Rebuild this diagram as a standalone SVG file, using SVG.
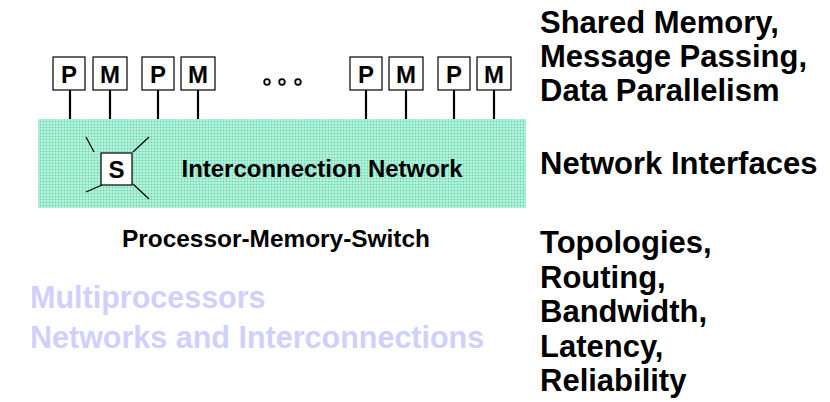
<svg xmlns="http://www.w3.org/2000/svg" width="830" height="402" viewBox="0 0 830 402">
  <style>
    .lbl { font-family: "Liberation Sans", Arial, sans-serif; font-weight: bold; fill: #000; }
    .box { fill: #fff; stroke: #000; stroke-width: 1.2; }
    .wire { stroke: #000; stroke-width: 2.2; fill: none; }
    .spoke { stroke: #000; stroke-width: 1.2; fill: none; }
    .node-text { font-size: 24px; text-anchor: middle; }
    .side { font-size: 31px; }
    .title { font-family: "Liberation Sans", Arial, sans-serif; font-weight: bold; font-size: 30.5px; fill: #d0d0ff; }
  </style>
  <defs>
    <!-- dotted mint fill of the network area -->
    <pattern id="dots" width="3" height="3" patternUnits="userSpaceOnUse">
      <rect width="3" height="3" fill="#d6f6ea"/>
      <rect x="0.5" y="0.5" width="2" height="2" fill="#5ddcb0"/>
    </pattern>
  </defs>

  <rect width="830" height="402" fill="#fff"/>

  <!-- interconnection network area -->
  <g id="network">
    <rect x="38" y="119" width="488" height="89" fill="url(#dots)"/>
    <text class="lbl" x="322" y="177" font-size="23" text-anchor="middle" textLength="281" lengthAdjust="spacingAndGlyphs">Interconnection Network</text>
  </g>

  <!-- connectors: processor/memory links and switch spokes -->
  <g id="connectors">
    <line class="wire" x1="70" y1="90" x2="70" y2="119"/>
    <line class="wire" x1="110" y1="90" x2="110" y2="119"/>
    <line class="wire" x1="158" y1="90" x2="158" y2="119"/>
    <line class="wire" x1="198" y1="90" x2="198" y2="119"/>
    <line class="wire" x1="366" y1="90" x2="366" y2="119"/>
    <line class="wire" x1="406" y1="90" x2="406" y2="119"/>
    <line class="wire" x1="454" y1="90" x2="454" y2="119"/>
    <line class="wire" x1="494" y1="90" x2="494" y2="119"/>
    <line class="spoke" x1="86" y1="137" x2="94" y2="152"/>
    <line class="spoke" x1="149" y1="137" x2="133" y2="152"/>
    <line class="spoke" x1="86" y1="192" x2="102" y2="185"/>
    <line class="spoke" x1="133" y1="184" x2="149" y2="199"/>
  </g>

  <g id="p1"><rect class="box" x="53" y="57" width="32" height="33"/><text class="lbl node-text" x="69" y="82.5">P</text></g>
  <g id="m1"><rect class="box" x="93" y="57" width="34" height="33"/><text class="lbl node-text" x="110" y="82.5">M</text></g>
  <g id="p2"><rect class="box" x="142" y="57" width="32" height="33"/><text class="lbl node-text" x="158" y="82.5">P</text></g>
  <g id="m2"><rect class="box" x="181" y="57" width="34" height="33"/><text class="lbl node-text" x="198" y="82.5">M</text></g>

  <g id="ellipsis" fill="none" stroke="#000" stroke-width="1.8">
    <circle cx="267" cy="82" r="2.8"/>
    <circle cx="282" cy="82" r="2.8"/>
    <circle cx="298" cy="82" r="2.8"/>
  </g>

  <g id="p3"><rect class="box" x="350" y="57" width="32" height="33"/><text class="lbl node-text" x="366" y="82.5">P</text></g>
  <g id="m3"><rect class="box" x="389" y="57" width="34" height="33"/><text class="lbl node-text" x="406" y="82.5">M</text></g>
  <g id="p4"><rect class="box" x="438" y="57" width="32" height="33"/><text class="lbl node-text" x="454" y="82.5">P</text></g>
  <g id="m4"><rect class="box" x="477" y="57" width="34" height="33"/><text class="lbl node-text" x="494" y="82.5">M</text></g>

  <g id="switch"><rect class="box" x="101" y="153" width="31" height="32"/><text class="lbl node-text" x="116.5" y="178">S</text></g>

  <text class="lbl" x="276" y="247" font-size="23" text-anchor="middle" textLength="308" lengthAdjust="spacingAndGlyphs">Processor-Memory-Switch</text>

  <g id="title">
    <text class="title" x="30" y="308">Multiprocessors</text>
    <text class="title" x="30" y="348">Networks and Interconnections</text>
  </g>

  <g id="notes">
    <text class="lbl side" x="540" y="33">Shared Memory,</text>
    <text class="lbl side" x="540" y="67">Message Passing,</text>
    <text class="lbl side" x="540" y="101">Data Parallelism</text>
    <text class="lbl side" x="540" y="174">Network Interfaces</text>
    <text class="lbl side" x="540" y="253">Topologies,</text>
    <text class="lbl side" x="540" y="288">Routing,</text>
    <text class="lbl side" x="540" y="322">Bandwidth,</text>
    <text class="lbl side" x="540" y="357">Latency,</text>
    <text class="lbl side" x="540" y="391">Reliability</text>
  </g>
</svg>
